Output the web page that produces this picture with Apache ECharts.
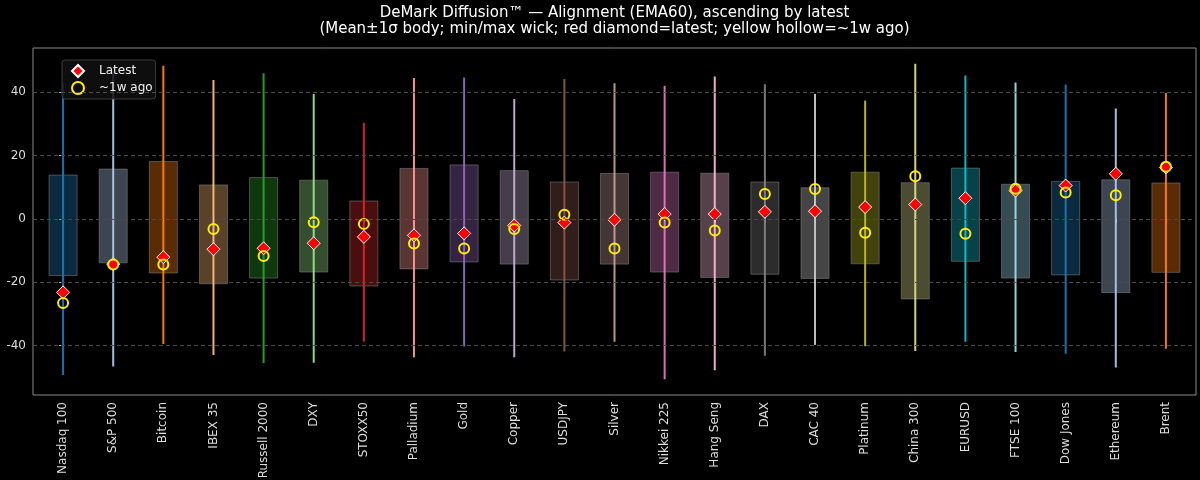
<!DOCTYPE html>
<html>
<head>
<meta charset="utf-8">
<script src="https://cdn.jsdelivr.net/npm/echarts@6/dist/echarts.min.js"></script>
<style>
html,body{margin:0;padding:0;background:#000;}
#chart{width:1200px;height:480px;}
</style>
</head>
<body>
<div id="chart"></div>
<script>
const categories = ['Nasdaq 100','S&P 500','Bitcoin','IBEX 35','Russell 2000','DXY','STOXX50','Palladium','Gold','Copper','USDJPY','Silver','Nikkei 225','Hang Seng','DAX','CAC 40','Platinum','China 300','EURUSD','FTSE 100','Dow Jones','Ethereum','Brent'];
const bodyLow  = [-17.9,-13.9,-17.1,-20.5,-18.7,-16.8,-21.2,-15.8,-13.6,-14.3,-19.3,-14.3,-16.8,-18.5,-17.5,-18.8,-14.2,-25.3,-13.4,-18.7,-17.7,-23.3,-16.9];
const bodyHigh = [13.8,15.7,18.1,10.7,13.0,12.2,5.6,15.9,17.0,15.2,11.6,14.3,14.7,14.4,11.6,9.8,14.7,11.4,16.0,10.9,11.8,12.3,11.3];
const wickMin  = [-49.3,-46.6,-39.5,-43.0,-45.5,-45.4,-38.8,-43.7,-40.3,-43.7,-41.9,-38.8,-50.6,-47.8,-43.2,-39.8,-40.2,-41.7,-38.8,-42.0,-42.6,-46.9,-41.0];
const wickMax  = [42.8,46.5,48.3,43.8,45.9,39.4,30.3,44.4,44.6,37.8,44.1,42.8,42.0,44.9,42.5,39.4,37.3,48.9,45.2,43.0,42.4,34.8,39.7];
const latest   = [-23.2,-14.3,-12.1,-9.6,-9.3,-7.7,-5.7,-5.2,-4.6,-2.1,-1.2,-0.3,1.5,1.5,2.2,2.4,3.7,4.5,6.5,8.9,10.5,14.2,16.2];
const weekAgo  = [-26.6,-14.4,-14.4,-3.2,-11.7,-1.1,-1.6,-7.8,-9.4,-3.2,1.3,-9.4,-1.2,-3.7,7.8,9.4,-4.4,13.4,-4.7,9.5,8.3,7.4,16.4];
const yTicks   = [-40,-20,0,20,40];

const palette = ['#1f77b4','#aec7e8','#ff7f0e','#ffbb78','#2ca02c','#98df8a','#d62728','#ff9896','#9467bd','#c5b0d5','#8c564b','#c49c94','#e377c2','#f7b6d2','#7f7f7f','#c7c7c7','#bcbd22','#dbdb8d','#17becf','#9edae5'];
function rgba(hex, a){
  const n = parseInt(hex.slice(1),16);
  return 'rgba(' + ((n>>16)&255) + ',' + ((n>>8)&255) + ',' + (n&255) + ',' + a + ')';
}

const idx = categories.map((_, i) => i);
const boxData = idx.map(i => [i, bodyLow[i], bodyHigh[i], wickMin[i], wickMax[i]]);
const latestData = idx.map(i => [i, latest[i]]);
const weekData = idx.map(i => [i, weekAgo[i]]);

const font = 'DejaVu Sans';
const gridLeft = 33, gridRight = 4;
const chart = echarts.init(document.getElementById('chart'), null, {renderer:'canvas'});
chart.setOption({
  backgroundColor: '#000',
  animation: false,
  textStyle: {fontFamily: font},
  title: {
    text: 'DeMark Diffusion™ — Alignment (EMA60), ascending by latest',
    subtext: '(Mean±1σ body; min/max wick; red diamond=latest; yellow hollow=~1w ago)',
    left: (gridLeft + (1200 - gridRight)) / 2, textAlign: 'center', top: 5, padding: 0, itemGap: 0,
    textStyle: {color:'#ffffff', fontSize:15, fontWeight:'normal', lineHeight:16, fontFamily: font},
    subtextStyle: {color:'#ffffff', fontSize:15, fontWeight:'normal', lineHeight:16, fontFamily: font}
  },
  legend: {
    left: 62, top: 60, orient: 'vertical',
    backgroundColor: 'rgba(16,16,16,0.85)', borderColor: '#3a3a3a', borderWidth: 1, borderRadius: 3,
    padding: [4, 3, 4, 9], itemGap: 3, itemWidth: 12, itemHeight: 12,
    textStyle: {color:'#f0f0f0', fontSize: 12, fontFamily: font, padding:[0,0,0,10]},
    data: ['Latest', '~1w ago']
  },
  grid: {left: gridLeft, right: gridRight, top: 48, bottom: 85, show: true, borderColor: '#8a8a8a', borderWidth: 1, outerBoundsMode: 'none', containLabel: false},
  xAxis: {
    type: 'value', min: -0.6, max: 22.6,
    axisLine: {show: false},
    splitLine: {show: false},
    axisTick: {show: true, customValues: idx, length: 4, lineStyle: {color:'#bbb'}},
    axisLabel: {customValues: idx, rotate: 90, color: '#dddddd', fontSize: 12, fontFamily: font, margin: 7,
      formatter: v => categories[Math.round(v)] || ''}
  },
  yAxis: {
    type: 'value', min: -55.6, max: 53.9,
    axisLine: {show: false},
    splitLine: {show: false},
    axisTick: {show: true, customValues: yTicks, length: 4, lineStyle: {color:'#bbb'}},
    axisLabel: {customValues: yTicks, color: '#dddddd', fontSize: 12, fontFamily: font, margin: 7}
  },
  series: [
    {
      type: 'custom', name: 'body', z: 2, silent: true,
      data: boxData,
      encode: {x: 0, y: [1,2,3,4]},
      renderItem: function(params, api){
        const i = api.value(0);
        const c = palette[i % palette.length];
        const pLo = api.coord([i, api.value(1)]);
        const pHi = api.coord([i, api.value(2)]);
        const pMin = api.coord([i, api.value(3)]);
        const pMax = api.coord([i, api.value(4)]);
        const w = api.size([0.56, 0])[0];
        return {
          type: 'group',
          children: [
            {type:'rect', shape:{x: pHi[0]-w/2, y: pHi[1], width: w, height: pLo[1]-pHi[1]},
             style:{fill: rgba(c, 0.35), stroke: 'rgba(150,150,150,0.45)', lineWidth: 1}},
            {type:'line', shape:{x1: pMax[0], y1: pMax[1], x2: pMin[0], y2: pMin[1]},
             style:{stroke: rgba(c, 0.95), lineWidth: 2}}
          ]
        };
      },
      markLine: {
        silent: true, symbol: ['none','none'], label: {show: false},
        lineStyle: {color: '#4a4a4a', type: [4, 3], width: 1},
        data: yTicks.map(v => ({yAxis: v}))
      }
    },
    {
      type: 'scatter', name: 'Latest', z: 3,
      symbol: 'diamond', symbolSize: 13,
      itemStyle: {color: '#ff0000', borderColor: '#ffffff', borderWidth: 1, opacity: 1},
      data: latestData
    },
    {
      type: 'scatter', name: '~1w ago', z: 4,
      symbol: 'circle', symbolSize: 10,
      itemStyle: {color: 'rgba(0,0,0,0)', borderColor: '#ffee00', borderWidth: 2, opacity: 1},
      data: weekData
    }
  ]
});
</script>
</body>
</html>
